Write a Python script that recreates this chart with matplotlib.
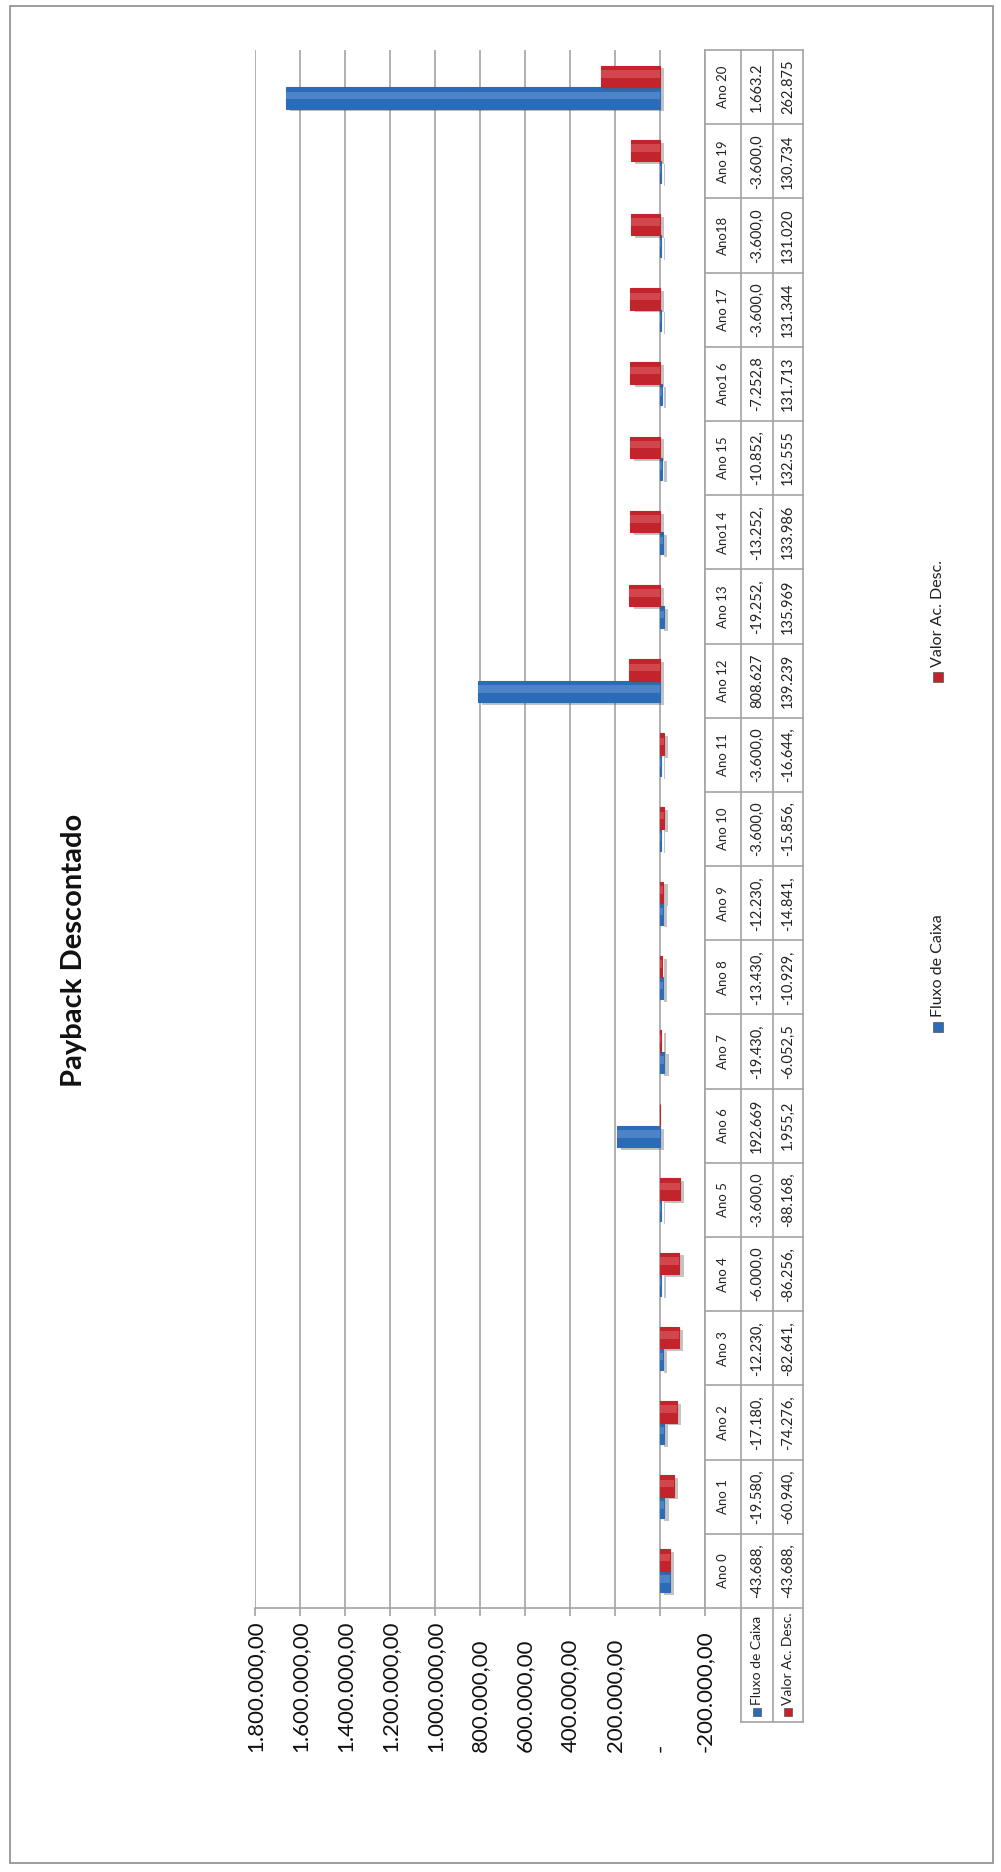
import matplotlib
matplotlib.use("Agg")
import matplotlib.pyplot as plt
import matplotlib.patheffects as pe
import matplotlib.transforms as mtransforms
from matplotlib.patches import Rectangle
from matplotlib.lines import Line2D
import numpy as np

plt.rcParams["font.family"] = ["Lato", "DejaVu Sans"]

# anos e séries do fluxo de caixa descontado
anos = ["Ano 0", "Ano 1", "Ano 2", "Ano 3", "Ano 4", "Ano 5", "Ano 6", "Ano 7",
        "Ano 8", "Ano 9", "Ano 10", "Ano 11", "Ano 12", "Ano 13", "Ano1 4",
        "Ano 15", "Ano1 6", "Ano 17", "Ano18", "Ano 19", "Ano 20"]
fluxo_caixa = [-43688.00, -19580.00, -17180.00, -12230.00, -6000.00, -3600.00,
               192669.00, -19430.00, -13430.00, -12230.00, -3600.00, -3600.00,
               808627.00, -19252.00, -13252.00, -10852.00, -7252.80, -3600.00,
               -3600.00, -3600.00, 1663200.00]
valor_ac_desc = [-43688.00, -60940.00, -74276.00, -82641.00, -86256.00,
                 -88168.00, 1955.20, -6052.50, -10929.00, -14841.00, -15856.00,
                 -16644.00, 139239.00, 135969.00, 133986.00, 132555.00,
                 131713.00, 131344.00, 131020.00, 130734.00, 262875.00]
series = ["Fluxo de Caixa", "Valor Ac. Desc."]
eixo_valores = [1800000, 1600000, 1400000, 1200000, 1000000, 800000, 600000,
                400000, 200000, 0, -200000]

AZUL, AZUL_CLARO = "#2c6bb8", "#6a9ad6"
VERM, VERM_CLARO = "#c3232b", "#e0646a"
CINZA = "#a3a3a3"

W, H = 1001, 1872


def fx(px):
    return px / W


def fy(py):
    return 1 - py / H


def fmt_br(v):
    # 1234567.8 -> "1.234.567,80"
    s = f"{abs(v):,.2f}".replace(",", "X").replace(".", ",").replace("X", ".")
    return ("-" if v < 0 else "") + s


def cortar(txt, limite=13):
    # célula estreita: corta o texto como o Excel faz
    out, tot = "", 0
    for c in txt:
        tot += 2 if c.isdigit() else 1
        if tot > limite:
            break
        out += c
    return out


def fmt_eixo(v):
    return "-" if v == 0 else fmt_br(v)


fig = plt.figure(figsize=(W / 100, H / 100), dpi=100)
fig.patch.set_facecolor("white")

# moldura externa
fig.add_artist(Rectangle((fx(10), fy(1863)), fx(983), 1857 / H, fill=False,
                         ec="#8c8c8c", lw=1.2, transform=fig.transFigure))

ax = fig.add_axes([fx(255), fy(1608), fx(705 - 255), (1608 - 50) / H])
ax.set_xlim(eixo_valores[0], eixo_valores[-1])
ax.set_ylim(-0.5, len(anos) - 0.5)
for s in ["top", "left", "right"]:
    ax.spines[s].set_visible(False)
ax.spines["bottom"].set_color(CINZA)
ax.spines["bottom"].set_linewidth(1.2)
ax.set_xticks(eixo_valores)
ax.set_xticklabels([])
ax.set_yticks([])
ax.tick_params(axis="x", length=6, width=1.2, color=CINZA)
ax.grid(axis="x", color=CINZA, lw=1.2)
ax.set_axisbelow(True)

y = np.arange(len(anos))
h = 0.29
sombra = [pe.SimplePatchShadow(offset=(3, -2), alpha=0.35, shadow_rgbFace="#555555"),
          pe.Normal()]
for vals, off, cor, clara in [(fluxo_caixa, -h / 2, AZUL, AZUL_CLARO),
                              (valor_ac_desc, h / 2, VERM, VERM_CLARO)]:
    bars = ax.barh(y + off, vals, height=h, color=cor, edgecolor=cor, lw=0.8,
                   zorder=3)
    for b in bars:
        b.set_path_effects(sombra)
    # brilho do bisel
    ax.barh(y + off + h * 0.12, vals, height=h * 0.35, color=clara, lw=0,
            alpha=0.55, zorder=4)

# rótulos do eixo de valores
tr_x = mtransforms.blended_transform_factory(ax.transData, fig.transFigure)
for v in eixo_valores:
    ax.text(v, fy(1752), fmt_eixo(v), transform=tr_x, rotation=90,
            ha="center", va="bottom", fontsize=16, color="#111111")

# tabela de dados
tr_y = mtransforms.blended_transform_factory(fig.transFigure, ax.transData)
col_x = [705, 741, 773, 803]
for xp in col_x:
    fig.add_artist(Line2D([fx(xp)] * 2, [-0.5, len(anos) - 0.5], transform=tr_y,
                          color=CINZA, lw=1.2))
for e in np.arange(-0.5, len(anos), 1.0):
    fig.add_artist(Line2D([fx(705), fx(803)], [e, e], transform=tr_y,
                          color=CINZA, lw=1.2))
for i, ano in enumerate(anos):
    fig.text(fx(723), i, ano, transform=tr_y, rotation=90, ha="center",
             va="center", fontsize=9.5, color="#222222")
    fig.text(fx(757), i, cortar(fmt_br(fluxo_caixa[i])), transform=tr_y,
             rotation=90, ha="center", va="center", fontsize=10.5,
             color="#222222")
    fig.text(fx(788), i, cortar(fmt_br(valor_ac_desc[i])), transform=tr_y,
             rotation=90, ha="center", va="center", fontsize=10.5,
             color="#222222")

# cabeçalhos das linhas da tabela
for xp in col_x[1:]:
    fig.add_artist(Line2D([fx(xp)] * 2, [fy(1608), fy(1722)], color=CINZA,
                          lw=1.2))
fig.add_artist(Line2D([fx(741), fx(803)], [fy(1722), fy(1722)], color=CINZA,
                      lw=1.2))
for xc, nome, cor in [(757, series[0], AZUL), (788, series[1], VERM)]:
    fig.add_artist(Rectangle((fx(xc - 4), fy(1716)), fx(8), 8 / H, fc=cor,
                             ec="#555555", lw=0.5))
    fig.text(fx(xc), fy(1705), nome, rotation=90, ha="center", va="bottom",
             fontsize=10, color="#222222")

# título
fig.text(fx(74), fy(950), "Payback Descontado", rotation=90, ha="center",
         va="center", fontsize=21, fontweight="bold", color="#111111")

# legenda
for yk, nome, cor in [(1027, series[0], AZUL), (677, series[1], VERM)]:
    fig.add_artist(Rectangle((fx(938 - 5), fy(yk + 5)), fx(10), 10 / H, fc=cor,
                             ec="#555555", lw=0.5))
    fig.text(fx(938), fy(yk - 10), nome, rotation=90, ha="center", va="bottom",
             fontsize=11.5, color="#222222")

fig.savefig("out.png", dpi=100)
